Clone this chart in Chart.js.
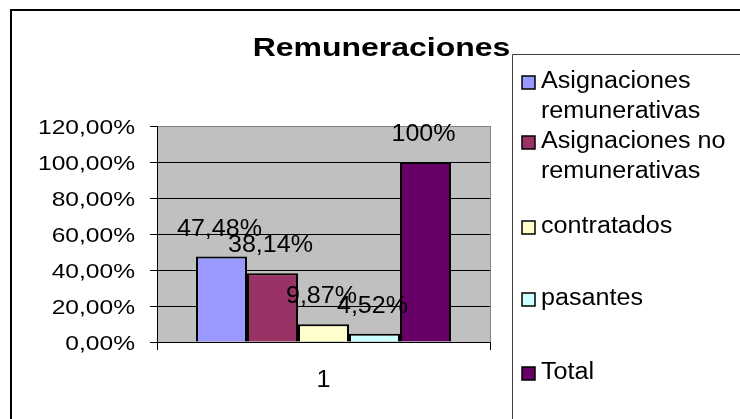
<!DOCTYPE html>
<html>
<head>
<meta charset="utf-8">
<script src="https://cdn.jsdelivr.net/npm/chart.js@4"></script>
<style>
  html, body { margin: 0; padding: 0; background: #fff; }
  #wrap { width: 740px; height: 419px; }
</style>
</head>
<body>
<div id="wrap"><canvas id="chart" width="740" height="419"></canvas></div>
<script>
  /* ---------------- data ---------------- */
  const categories = ["1"];
  const seriesNames = [
    ["Asignaciones", "remunerativas"],
    ["Asignaciones no", "remunerativas"],
    ["contratados"],
    ["pasantes"],
    ["Total"]
  ];
  const seriesValues = [0.4748, 0.3814, 0.0987, 0.0452, 1.00];
  const valueLabels = ["47,48%", "38,14%", "9,87%", "4,52%", "100%"];
  const seriesColors = ["#9999FF", "#993366", "#FFFFCC", "#CCFFFF", "#660066"];
  const yTickLabels = ["0,00%", "20,00%", "40,00%", "60,00%", "80,00%", "100,00%", "120,00%"];
  const chartTitle = "Remuneraciones";

  const FONT = '"Liberation Sans", Arial, sans-serif';

  // text in the picture is a little wider than plain Arial
  function drawText(ctx, text, x, y, font, align, sx){
    ctx.save();
    ctx.translate(x, y);
    ctx.scale(sx, 1);
    ctx.font = font;
    ctx.textAlign = align;
    ctx.textBaseline = "alphabetic";
    ctx.fillStyle = "#000";
    ctx.fillText(text, 0, 0);
    ctx.restore();
  }

  const decorPlugin = {
    id: "decor",
    beforeDraw(chart){
      const {ctx, chartArea: a} = chart;
      ctx.save();
      ctx.fillStyle = "#fff";
      ctx.fillRect(0, 0, chart.width, chart.height);
      ctx.fillStyle = "#C0C0C0";
      ctx.fillRect(a.left, a.top, a.right - a.left, a.bottom - a.top);
      ctx.restore();
    },
    afterDraw(chart){
      const {ctx} = chart;
      const yScale = chart.scales.y;
      const xScale = chart.scales.x;

      // title
      drawText(ctx, chartTitle, 381.5, 56, "bold 26px " + FONT, "center", 1.23);

      // y tick labels
      yScale.ticks.forEach((t, i) => {
        const py = yScale.getPixelForValue(t.value);
        drawText(ctx, yTickLabels[i], 135, py + 7.5, "21px " + FONT, "right", 1.17);
      });

      // category label
      categories.forEach((c, i) => {
        const px = xScale.getPixelForValue(i);
        drawText(ctx, c, px, 387, "23px " + FONT, "center", 1.1);
      });

      // value labels above bars
      chart.data.datasets.forEach((ds, di) => {
        const meta = chart.getDatasetMeta(di);
        meta.data.forEach(bar => {
          drawText(ctx, valueLabels[di], bar.x - 2, bar.y - 21, "23px " + FONT, "center", 1.09);
        });
      });

      // outer frame (only left + top fall inside the picture)
      ctx.save();
      ctx.strokeStyle = "#000";
      ctx.lineWidth = 2;
      ctx.beginPath();
      ctx.moveTo(11, chart.height);
      ctx.lineTo(11, 10);
      ctx.lineTo(chart.width, 10);
      ctx.stroke();

      // legend box
      ctx.strokeStyle = "#404040";
      ctx.lineWidth = 1;
      ctx.beginPath();
      ctx.moveTo(512.5, chart.height);
      ctx.lineTo(512.5, 54.5);
      ctx.lineTo(chart.width, 54.5);
      ctx.stroke();
      ctx.restore();

      // legend items
      const baselines = [88, 148, 233, 305, 379];
      seriesNames.forEach((lines, i) => {
        const b = baselines[i];
        ctx.save();
        ctx.fillStyle = seriesColors[i];
        ctx.fillRect(522, b - 12, 13, 13);
        ctx.strokeStyle = "#000";
        ctx.lineWidth = 1.5;
        ctx.strokeRect(522, b - 12, 13, 13);
        ctx.restore();
        lines.forEach((ln, j) => {
          drawText(ctx, ln, 541, b + j * 30, "23.5px " + FONT, "left", 1.07);
        });
      });
    }
  };

  const datasets = seriesNames.map((n, i) => ({
    label: n.join(" "),
    data: [seriesValues[i]],
    backgroundColor: seriesColors[i],
    borderColor: "#000",
    borderWidth: 2,
    borderSkipped: "bottom",
    categoryPercentage: 255 / 333,
    barPercentage: 1.0
  }));

  new Chart(document.getElementById("chart"), {
    type: "bar",
    data: { labels: categories, datasets },
    plugins: [decorPlugin],
    options: {
      responsive: false,
      animation: false,
      devicePixelRatio: 1,
      layout: { padding: { top: 126, left: 150, right: 250, bottom: 69 } },
      plugins: {
        legend: { display: false },
        title: { display: false },
        tooltip: { enabled: false }
      },
      scales: {
        x: {
          offset: true,
          ticks: { display: false },
          grid: {
            offset: true,
            drawOnChartArea: true,
            tickLength: 8,
            tickColor: "#000",
            color: ctx => ctx.index === 0 ? "#000" : "#808080",
            lineWidth: 1
          },
          border: { color: "#000", width: 1 },
          afterFit: s => { s.height = 8; }
        },
        y: {
          min: 0,
          max: 1.2,
          ticks: { display: false, stepSize: 0.2 },
          grid: {
            tickLength: 7,
            tickColor: "#000",
            color: ctx => (ctx.tick && ctx.tick.value >= 1.19) ? "#808080" : "#000",
            lineWidth: 1
          },
          border: { color: "#000", width: 1 },
          afterFit: s => { s.width = 7; }
        }
      }
    }
  });
</script>
</body>
</html>
